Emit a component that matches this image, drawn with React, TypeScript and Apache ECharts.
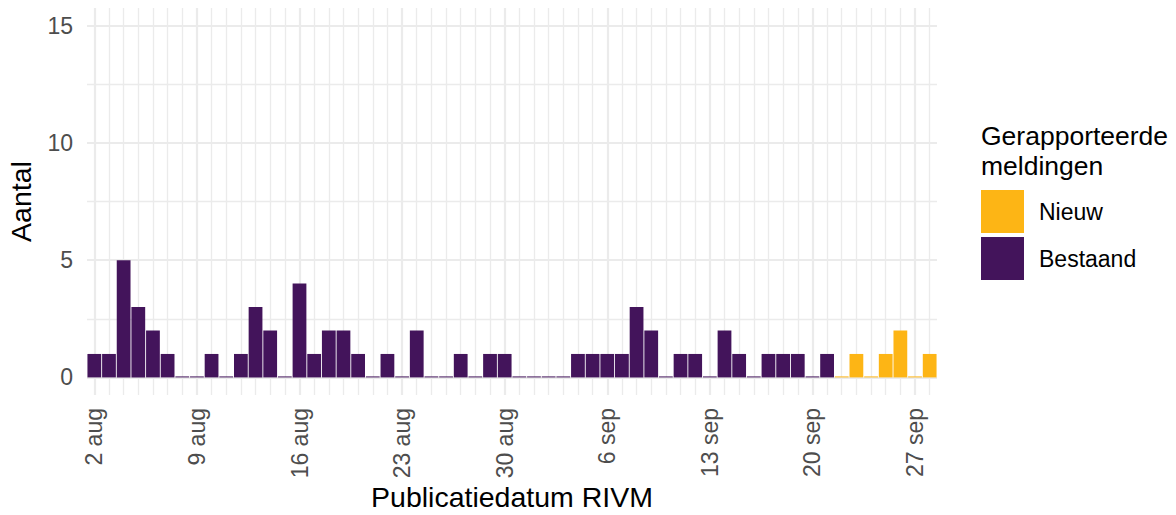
import React, { useEffect, useRef } from "react";
import * as echarts from "echarts";

const categories: string[] = [
  "2 aug", "3 aug", "4 aug", "5 aug", "6 aug", "7 aug", "8 aug", "9 aug", "10 aug", "11 aug",
  "12 aug", "13 aug", "14 aug", "15 aug", "16 aug", "17 aug", "18 aug", "19 aug", "20 aug", "21 aug",
  "22 aug", "23 aug", "24 aug", "25 aug", "26 aug", "27 aug", "28 aug", "29 aug", "30 aug", "31 aug",
  "1 sep", "2 sep", "3 sep", "4 sep", "5 sep", "6 sep", "7 sep", "8 sep", "9 sep", "10 sep",
  "11 sep", "12 sep", "13 sep", "14 sep", "15 sep", "16 sep", "17 sep", "18 sep", "19 sep", "20 sep",
  "21 sep", "22 sep", "23 sep", "24 sep", "25 sep", "26 sep", "27 sep", "28 sep",
];

// Bestaand: 2 aug .. 21 sep
const bestaandValues: number[] = [
  1, 1, 5, 3, 2, 1, 0, 0, 1, 0,
  1, 3, 2, 0, 4, 1, 2, 2, 1, 0,
  1, 0, 2, 0, 0, 1, 0, 1, 1, 0,
  0, 0, 0, 1, 1, 1, 1, 3, 2, 0,
  1, 1, 0, 2, 1, 0, 1, 1, 1, 0,
  1,
];

// Nieuw: 22 sep .. 28 sep
const nieuwValues: number[] = [0, 1, 0, 1, 2, 0, 1];

const yTickLabels: number[] = [0, 5, 10, 15];
const yMinorGrid: number[] = [2.5, 7.5, 12.5];
const weeklyLabels: string[] = categories.filter((_, i) => i % 7 === 0);
const dailyLabels: string[] = categories.filter((_, i) => i % 7 !== 0);

const PURPLE = "#43145B";
const YELLOW = "#FDB515";
const GRID = "#EBEBEB";
const FONT = "'Liberation Sans', Arial, Helvetica, sans-serif";

export default function App() {
  const ref = useRef<HTMLDivElement>(null);

  useEffect(() => {
    if (!ref.current) return;
    const chart = echarts.init(ref.current, undefined, { renderer: "svg" });

    const bestaandFull = (bestaandValues as (number | string)[]).concat(
      nieuwValues.map(() => "-")
    );
    const nieuwFull = (bestaandValues.map(() => "-") as (number | string)[]).concat(nieuwValues);

    const gridLines = [
      ...yTickLabels.map((v) => ({ yAxis: v, lineStyle: { width: 2.2 } })),
      ...yMinorGrid.map((v) => ({ yAxis: v, lineStyle: { width: 1.3 } })),
      ...weeklyLabels.map((c) => ({ xAxis: c, lineStyle: { width: 2.2 } })),
      ...dailyLabels.map((c) => ({ xAxis: c, lineStyle: { width: 1.3 } })),
    ];

    chart.setOption({
      animation: false,
      textStyle: { fontFamily: FONT },
      title: {
        text: "Gerapporteerde\nmeldingen",
        left: 981,
        top: 121,
        padding: 0,
        textStyle: {
          fontFamily: FONT,
          fontSize: 26.5,
          fontWeight: "normal",
          color: "#000000",
          lineHeight: 30,
        },
      },
      legend: {
        data: ["Nieuw", "Bestaand"],
        orient: "vertical",
        left: 981,
        top: 190,
        padding: 0,
        itemWidth: 43,
        itemHeight: 43,
        itemGap: 4,
        icon: "rect",
        selectedMode: false,
        textStyle: {
          fontFamily: FONT,
          fontSize: 23,
          color: "#000000",
          padding: [0, 0, 0, 10],
        },
      },
      grid: {
        left: 87,
        right: 239,
        top: 8,
        bottom: 120,
        containLabel: false,
        outerBoundsMode: "none",
      },
      xAxis: {
        type: "category",
        data: categories,
        boundaryGap: true,
        axisLine: { show: false },
        axisTick: { show: false },
        splitLine: { show: false },
        axisLabel: {
          interval: (i: number) => i % 7 === 0,
          rotate: 90,
          margin: 13,
          fontSize: 23,
          color: "#4D4D4D",
          fontFamily: FONT,
        },
        name: "Publicatiedatum RIVM",
        nameLocation: "middle",
        nameGap: 87,
        nameMoveOverlap: false,
        nameTextStyle: { fontSize: 28.5, color: "#000000", fontFamily: FONT },
      },
      yAxis: {
        type: "value",
        min: -0.75,
        max: 15.75,
        axisLine: { show: false },
        axisTick: { show: false },
        splitLine: { show: false },
        axisLabel: {
          customValues: yTickLabels,
          margin: 14,
          fontSize: 23,
          color: "#4D4D4D",
          fontFamily: FONT,
        },
        name: "Aantal",
        nameLocation: "middle",
        nameGap: 52,
        nameMoveOverlap: false,
        nameTextStyle: { fontSize: 28.5, color: "#000000", fontFamily: FONT },
      },
      series: [
        {
          name: "Bestaand",
          type: "bar",
          data: bestaandFull,
          barGap: "-100%",
          barCategoryGap: "6%",
          barMinHeight: 1,
          itemStyle: { color: PURPLE },
          z: 3,
          markLine: {
            silent: true,
            symbol: "none",
            z: 1,
            label: { show: false },
            lineStyle: { color: GRID, type: "solid" },
            emphasis: { disabled: true },
            data: gridLines,
          },
        },
        {
          name: "Nieuw",
          type: "bar",
          data: nieuwFull,
          barGap: "-100%",
          barCategoryGap: "6%",
          barMinHeight: 1,
          itemStyle: { color: YELLOW },
          z: 3,
        },
      ],
    });

    return () => chart.dispose();
  }, []);

  return (
    <div
      ref={ref}
      style={{ position: "absolute", left: 0, top: 0, width: 1176, height: 515 }}
    />
  );
}
